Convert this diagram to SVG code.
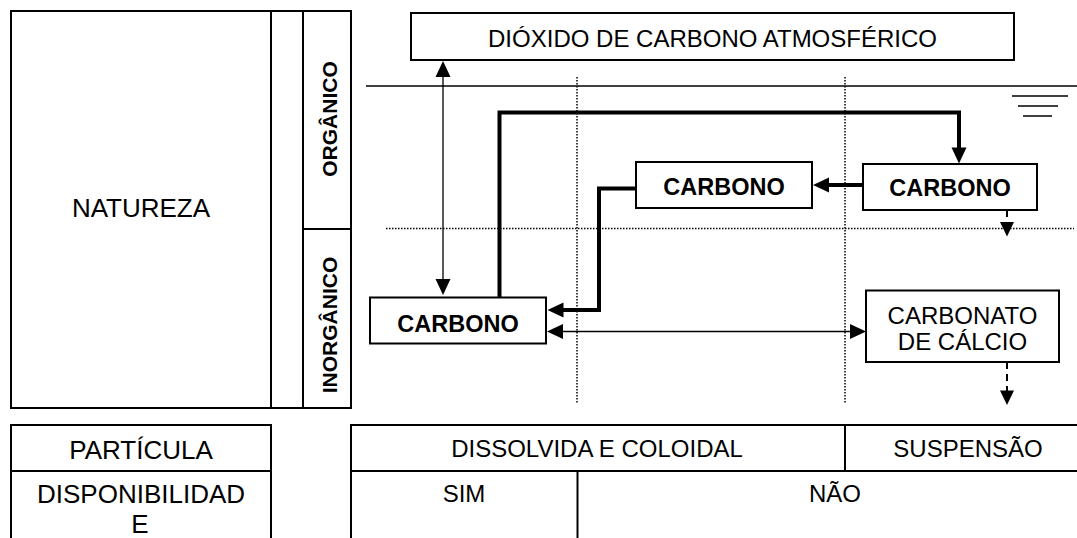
<svg xmlns="http://www.w3.org/2000/svg" width="1077" height="538" viewBox="0 0 1077 538">
  <defs>
    <path id="headDown" d="M-7.5,-16 L7.5,-16 L0,0 Z" fill="#000"/>
    <path id="headDownS" d="M-7,-14.5 L7,-14.5 L0,0 Z" fill="#000"/>
  </defs>
  <style>
    .box { fill: #fff; stroke: #000; stroke-width: 2; }
    .frame { fill: none; stroke: #000; stroke-width: 2; }
    .line { fill: none; stroke: #000; stroke-width: 1.5; }
    .dot { fill: none; stroke: #000; stroke-width: 1.5; stroke-dasharray: 1.5 1.5; }
    .thin { fill: none; stroke: #000; stroke-width: 1.3; }
    .thick { fill: none; stroke: #000; stroke-width: 4; stroke-linejoin: miter; }
    .dash { fill: none; stroke: #000; stroke-width: 2; stroke-dasharray: 7 5; }
    text { font-family: "Liberation Sans", Arial, sans-serif; fill: #000; text-anchor: middle; }
    .t24 { font-size: 24px; }
    .t26 { font-size: 26px; }
    .b23 { font-size: 23.5px; font-weight: bold; }
    .b21 { font-size: 21px; font-weight: bold; }
  </style>
  <rect width="1077" height="538" fill="#fff"/>

  <!-- background guides -->
  <g id="guides">
    <line class="line" x1="366" y1="86" x2="1077" y2="86"/>
    <line class="line" x1="1012" y1="96" x2="1068" y2="96"/>
    <line class="line" x1="1018" y1="106" x2="1058" y2="106"/>
    <line class="line" x1="1023" y1="116" x2="1052" y2="116"/>
    <line class="dot" x1="577" y1="77" x2="577" y2="404"/>
    <line class="dot" x1="845" y1="77" x2="845" y2="404"/>
    <line class="dot" x1="386" y1="228.5" x2="1074" y2="228.5"/>
  </g>

  <!-- left classification panel -->
  <g id="natureza">
    <rect class="frame" x="11" y="11" width="340" height="397"/>
    <line class="frame" x1="271" y1="11" x2="271" y2="408"/>
    <line class="frame" x1="303" y1="11" x2="303" y2="408"/>
    <line class="frame" x1="303" y1="229" x2="352" y2="229"/>
    <text class="t26" x="141" y="217">NATUREZA</text>
  </g>
  <g id="organico">
    <text class="b21" transform="translate(336.5,119) rotate(-90)">ORGÂNICO</text>
  </g>
  <g id="inorganico">
    <text class="b21" transform="translate(336.5,325) rotate(-90)">INORGÂNICO</text>
  </g>

  <!-- connectors -->
  <g id="connectors">
    <line class="thin" x1="443" y1="76" x2="443" y2="280"/>
    <use href="#headDown" transform="translate(443,61) rotate(180)"/>
    <use href="#headDown" transform="translate(443,295)"/>
    <line class="thin" x1="562" y1="331.5" x2="851" y2="331.5"/>
    <use href="#headDown" transform="translate(547,331.5) rotate(90)"/>
    <use href="#headDown" transform="translate(866,331.5) rotate(-90)"/>
    <polyline class="thick" points="499.5,297 499.5,112.5 959,112.5 959,149"/>
    <use href="#headDown" transform="translate(959,163.5)"/>
    <line class="thick" x1="863" y1="185" x2="829" y2="185"/>
    <use href="#headDown" transform="translate(813,185) rotate(90)"/>
    <polyline class="thick" points="636,188.5 599,188.5 599,310 562,310"/>
    <use href="#headDown" transform="translate(547.5,310) rotate(90)"/>
    <line class="dash" x1="1007" y1="210" x2="1007" y2="223"/>
    <use href="#headDownS" transform="translate(1007,236.5)"/>
    <line class="dash" x1="1007" y1="362" x2="1007" y2="392"/>
    <use href="#headDownS" transform="translate(1007,405)"/>
  </g>

  <!-- nodes -->
  <g id="dioxido">
    <rect class="box" x="411" y="13" width="603" height="47"/>
    <text class="t24" x="712.5" y="47">DIÓXIDO DE CARBONO ATMOSFÉRICO</text>
  </g>
  <g id="carbono-inorganico">
    <rect class="box" x="370" y="297.5" width="176" height="46"/>
    <text class="b23" x="458" y="331.5">CARBONO</text>
  </g>
  <g id="carbono-meio">
    <rect class="box" x="636" y="162" width="176" height="46"/>
    <text class="b23" x="724" y="195">CARBONO</text>
  </g>
  <g id="carbono-direita">
    <rect class="box" x="863" y="164" width="174" height="46"/>
    <text class="b23" x="950" y="196">CARBONO</text>
  </g>
  <g id="carbonato">
    <rect class="box" x="866" y="290.5" width="193" height="71.5"/>
    <text class="t24" x="962.5" y="323.5">CARBONATO</text>
    <text class="t24" x="962.5" y="350">DE CÁLCIO</text>
  </g>

  <!-- bottom tables -->
  <g id="tabela-esquerda">
    <polyline class="frame" points="11,538 11,425 271,425 271,538"/>
    <line class="frame" x1="11" y1="471" x2="271" y2="471"/>
    <text class="t26" x="141" y="459">PARTÍCULA</text>
    <text class="t26" x="141" y="503">DISPONIBILIDAD</text>
    <text class="t26" x="140" y="533">E</text>
  </g>
  <g id="tabela-direita">
    <polyline class="frame" points="1077,425 351,425 351,538"/>
    <line class="frame" x1="351" y1="471" x2="1077" y2="471"/>
    <line class="frame" x1="845" y1="425" x2="845" y2="471"/>
    <line class="frame" x1="577.5" y1="471" x2="577.5" y2="538"/>
    <text class="t24" x="597" y="457">DISSOLVIDA E COLOIDAL</text>
    <text class="t24" x="968" y="457">SUSPENSÃO</text>
    <text class="t24" x="464" y="502">SIM</text>
    <text class="t24" x="835" y="502">NÃO</text>
  </g>
</svg>
